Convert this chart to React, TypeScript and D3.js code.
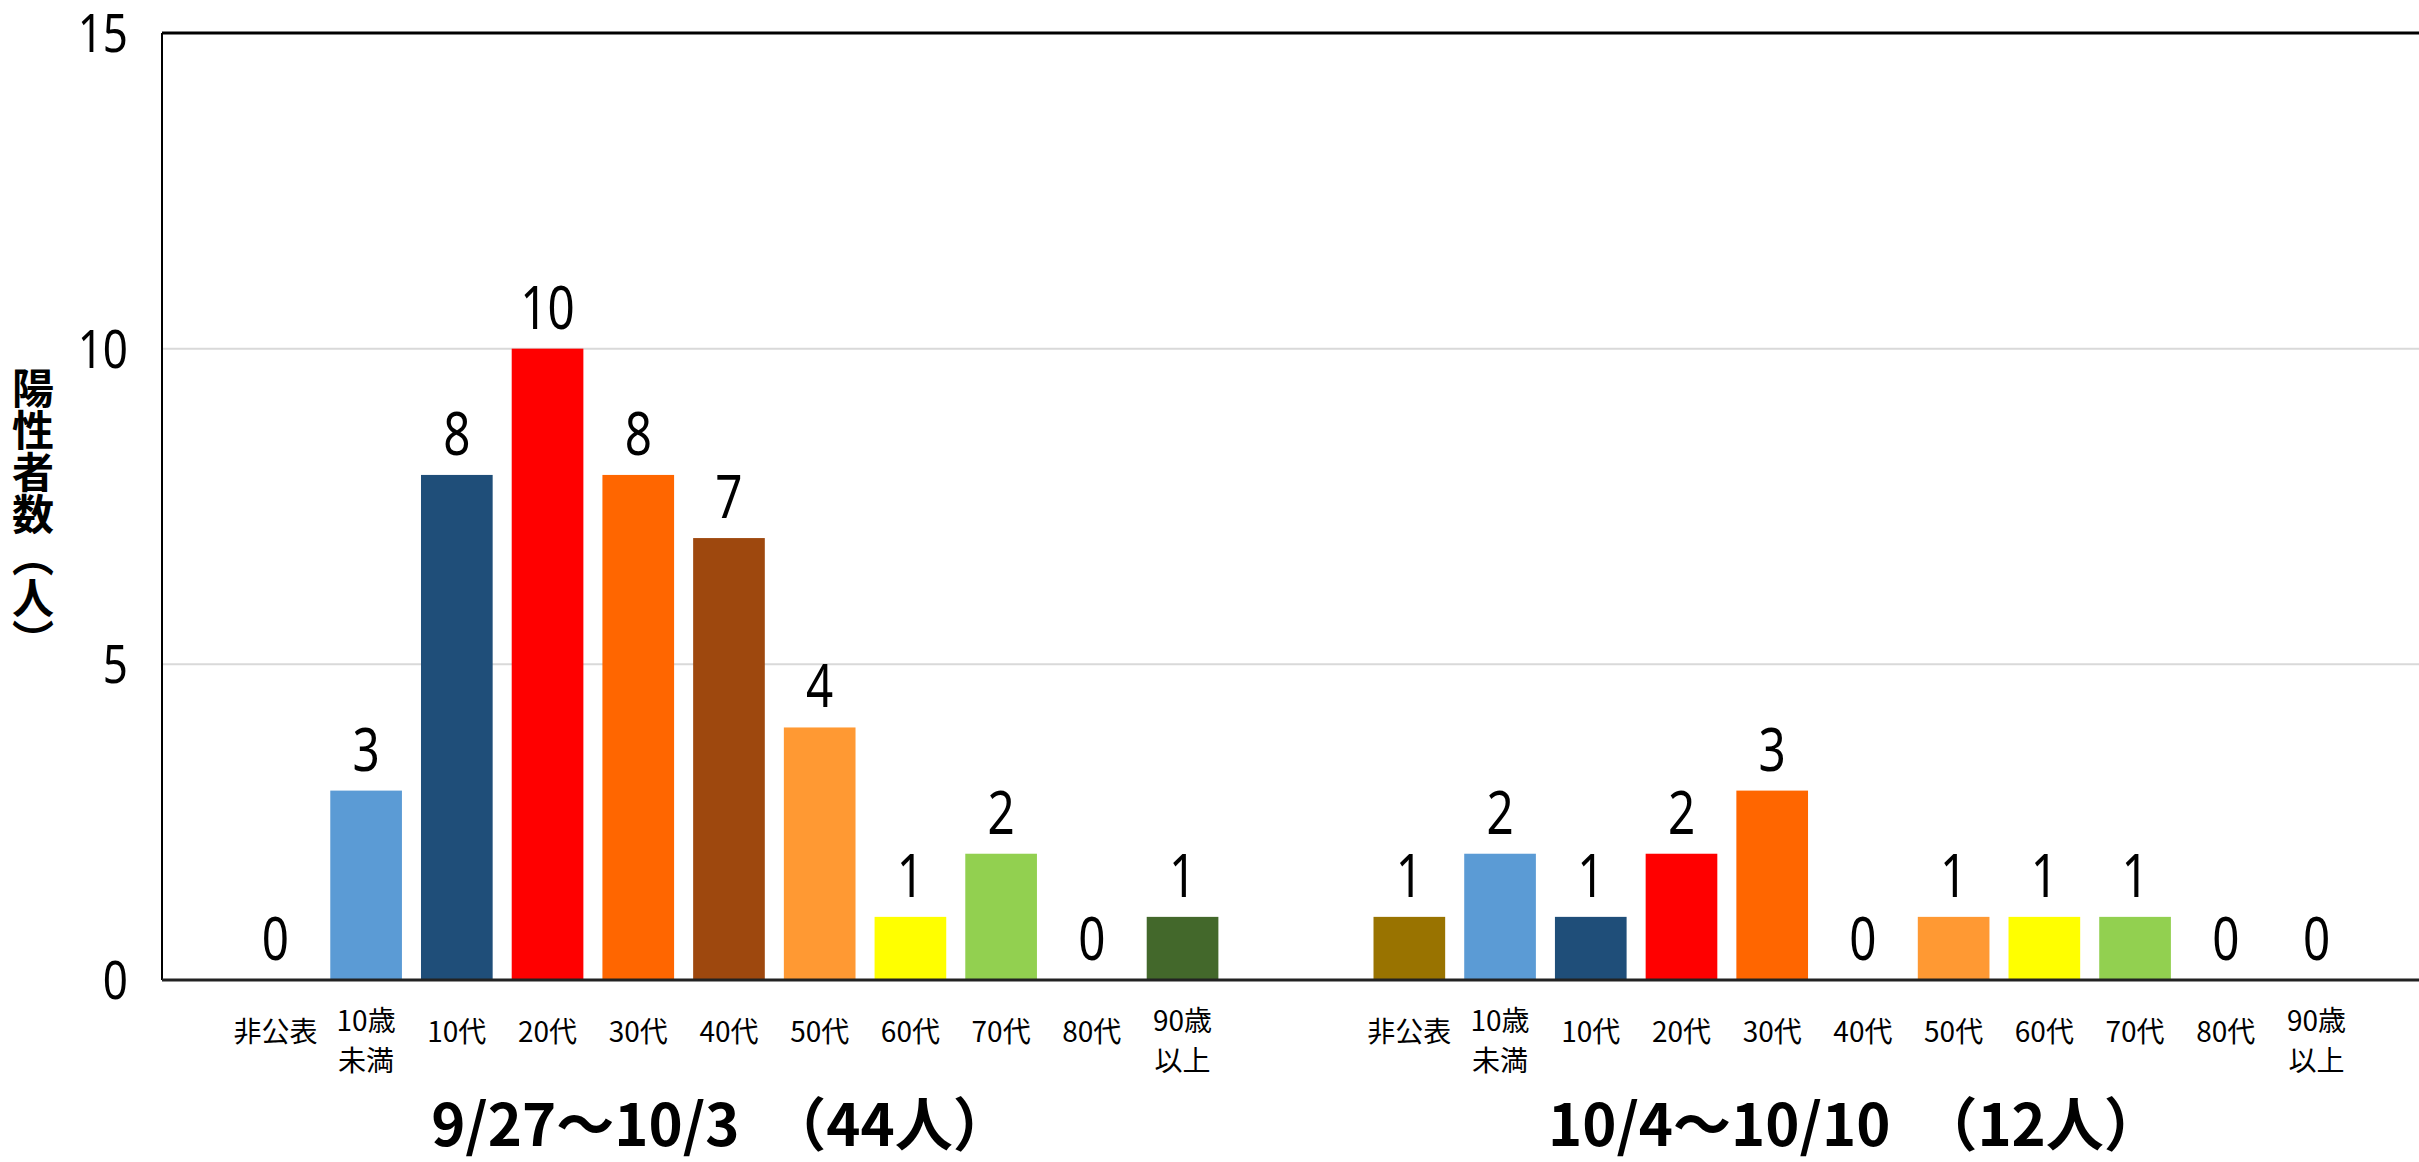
import React from 'react';
import * as d3 from 'd3';

const categories = ['非公表', '10歳\n未満', '10代', '20代', '30代', '40代', '50代', '60代', '70代', '80代', '90歳\n以上'];
const categoryColors = ['#997300', '#5B9BD5', '#1F4E79', '#FF0000', '#FF6600', '#9E480E', '#FF9933', '#FFFF00', '#92D050', '#7F7F7F', '#43682B'];
const week1Values = [0, 3, 8, 10, 8, 7, 4, 1, 2, 0, 1];
const week2Values = [1, 2, 1, 2, 3, 0, 1, 1, 1, 0, 0];
const periodTitles = ['9/27～10/3　（44人）', '10/4～10/10　（12人）'];
const yTicks = [0, 5, 10, 15];
const yTitle = '陽性者数（人）';

const W = 2419;
const H = 1162;
const left = 162;
const right = 2419;
const top = 33;
const bottom = 980;
const groupOffset = 12.5; // slots between first bar of each group

const numFont = '"Noto Sans", "DejaVu Sans", sans-serif';
const jpFont = '"Noto Sans CJK JP", sans-serif';

const App = () => {
    const x = d3.scaleLinear().domain([-1.25, 23.63]).range([left, right]);
    const y = d3.scaleLinear().domain([0, 15]).range([bottom, top]);
    const step = x(1) - x(0);
    const barW = step * 0.79;

    const groups = [week1Values, week2Values];

    return (
        <svg width={W} height={H} style={{ position: 'absolute', left: 0, top: 0, background: '#fff' }}>
            {/* grid */}
            {yTicks.filter(t => t > 0 && t < 15).map(t => (
                <line key={t} x1={left} x2={right} y1={y(t)} y2={y(t)} stroke="#d9d9d9" strokeWidth={2} />
            ))}

            {/* bars */}
            {groups.map((vals, g) => vals.map((v, i) => {
                const cx = x(i + g * groupOffset);
                return (
                    <g key={`${g}-${i}`}>
                        {v > 0 && (
                            <rect x={cx - barW / 2} y={y(v)} width={barW} height={y(0) - y(v)} fill={categoryColors[i]} />
                        )}
                        <g transform={`translate(${cx},${y(v) - 20}) scale(0.78,1)`}>
                            <text textAnchor="middle" fontFamily={numFont} fontSize={61} fill="#000">{v}</text>
                        </g>
                    </g>
                );
            }))}

            {/* frame */}
            <line x1={left} x2={right} y1={top} y2={top} stroke="#000" strokeWidth={3} />
            <line x1={left} x2={left} y1={top} y2={bottom} stroke="#000" strokeWidth={2} />
            <line x1={left} x2={right} y1={bottom} y2={bottom} stroke="#222" strokeWidth={3} />

            {/* y ticks */}
            {yTicks.map(t => (
                <g key={t} transform={`translate(128,${y(t) + 19}) scale(0.83,1)`}>
                    <text textAnchor="end" fontFamily={numFont} fontSize={53} fill="#000">{t}</text>
                </g>
            ))}

            {/* y title */}
            <text x={33} y={(top + bottom) / 2 + 8} textAnchor="middle" fontFamily={jpFont} fontWeight="bold" fontSize={42}
                style={{ writingMode: 'vertical-rl', textOrientation: 'upright' } as any} fill="#000">{yTitle}</text>

            {/* category labels */}
            {groups.map((_, g) => categories.map((c, i) => {
                const cx = x(i + g * groupOffset);
                const lines = c.split('\n');
                return (
                    <text key={`l${g}-${i}`} textAnchor="middle" fontFamily={jpFont} fontSize={28} fill="#000">
                        {lines.length === 1
                            ? <tspan x={cx} y={1042}>{lines[0]}</tspan>
                            : lines.map((l, k) => <tspan key={k} x={cx} y={1031 + k * 40}>{l}</tspan>)}
                    </text>
                );
            }))}

            {/* period titles */}
            {periodTitles.map((t, g) => (
                <text key={t} x={x(5 + g * groupOffset) - 8} y={1146} textAnchor="middle" fontFamily={jpFont}
                    fontWeight="bold" fontSize={58} fill="#000">{t}</text>
            ))}
        </svg>
    );
};

export default App;
